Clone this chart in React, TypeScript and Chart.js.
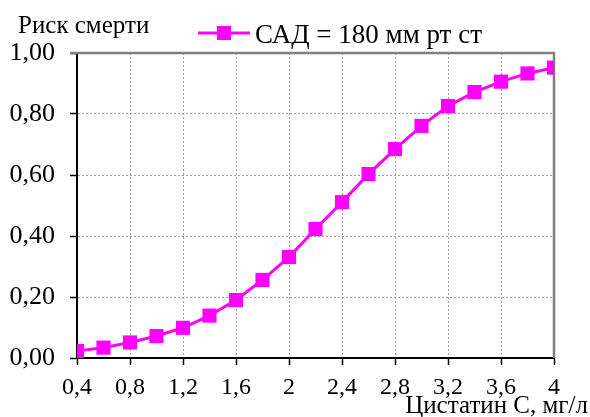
import React, { useEffect, useRef } from "react";
import { Chart, registerables } from "chart.js";

Chart.register(...registerables);

const xValues = [0.4, 0.6, 0.8, 1.0, 1.2, 1.4, 1.6, 1.8, 2.0, 2.2, 2.4, 2.6, 2.8, 3.0, 3.2, 3.4, 3.6, 3.8, 4.0];
const riskValues = [0.023, 0.034, 0.051, 0.072, 0.099, 0.139, 0.19, 0.256, 0.331, 0.423, 0.511, 0.603, 0.685, 0.761, 0.826, 0.872, 0.906, 0.933, 0.952];
const xTicks = [0.4, 0.8, 1.2, 1.6, 2.0, 2.4, 2.8, 3.2, 3.6, 4.0];
const yTicks = [0, 0.2, 0.4, 0.6, 0.8, 1.0];
const seriesLabel = "САД = 180 мм рт ст";
const yTitle = "Риск смерти";
const xTitle = "Цистатин С, мг/л";

const FONT = "'Liberation Serif', 'Times New Roman', serif";
const MAGENTA = "#FF00FF";

export default function App() {
  const ref = useRef<HTMLCanvasElement | null>(null);

  useEffect(() => {
    if (!ref.current) return;
    const framePlugin = {
      id: "frame",
      beforeDatasetsDraw(chart: any) {
        const { ctx, chartArea } = chart;
        ctx.save();
        ctx.strokeStyle = "#808080";
        ctx.lineWidth = 2.5;
        ctx.beginPath();
        ctx.moveTo(chartArea.left - 7, chartArea.top);
        ctx.lineTo(chartArea.right, chartArea.top);
        ctx.lineTo(chartArea.right, chartArea.bottom);
        ctx.stroke();
        ctx.restore();
      },
      afterDraw(chart: any) {
        const { ctx } = chart;
        ctx.save();
        ctx.fillStyle = "#000";
        ctx.textBaseline = "alphabetic";
        ctx.textAlign = "left";
        ctx.font = `25px ${FONT}`;
        ctx.fillText(yTitle, 18, 33);
        ctx.textAlign = "right";
        ctx.font = `25px ${FONT}`;
        ctx.fillText(xTitle, 588, 413);
        // legend
        const ly = 33;
        ctx.strokeStyle = MAGENTA;
        ctx.lineWidth = 3;
        ctx.beginPath();
        ctx.moveTo(198, ly);
        ctx.lineTo(250, ly);
        ctx.stroke();
        ctx.fillStyle = MAGENTA;
        ctx.fillRect(224 - 7, ly - 7, 14, 14);
        ctx.fillStyle = "#000";
        ctx.textAlign = "left";
        ctx.textBaseline = "alphabetic";
        ctx.font = `27px ${FONT}`;
        ctx.fillText(seriesLabel, 255, 43);
        ctx.restore();
      },
    };

    const chart = new Chart(ref.current, {
      type: "line",
      data: {
        datasets: [
          {
            label: seriesLabel,
            data: xValues.map((x, i) => ({ x, y: riskValues[i] })),
            borderColor: MAGENTA,
            backgroundColor: MAGENTA,
            borderWidth: 3,
            pointStyle: "rect",
            pointRadius: 10,
            pointBorderWidth: 0,
            pointBackgroundColor: MAGENTA,
            pointBorderColor: MAGENTA,
            tension: 0,
          },
        ],
      },
      options: {
        animation: false,
        responsive: false,
        layout: { padding: { top: 53, right: 36, left: 0, bottom: 0 } },
        plugins: { legend: { display: false }, tooltip: { enabled: false } },
        scales: {
          x: {
            type: "linear",
            min: 0.4,
            max: 4,
            afterBuildTicks: (scale: any) => {
              scale.ticks = xTicks.map((v) => ({ value: v }));
            },
            afterFit: (scale: any) => {
              scale.height = 59;
            },
            ticks: {
              color: "#000",
              font: { family: FONT, size: 24 },
              padding: 8,
              maxRotation: 0,
              autoSkip: false,
              callback: (v: any) => String(Math.round(Number(v) * 10) / 10).replace(".", ","),
            },
            grid: {
              color: "#a0a0a0",
              lineWidth: 1,
              tickLength: 7,
              tickColor: "#000",
              tickWidth: 1.5,
              tickBorderDash: [],
            },
            border: { display: true, color: "#000", width: 2, dash: [2, 2] },
          },
          y: {
            type: "linear",
            min: 0,
            max: 1,
            afterBuildTicks: (scale: any) => {
              scale.ticks = yTicks.map((v) => ({ value: v }));
            },
            afterFit: (scale: any) => {
              scale.width = 77;
            },
            ticks: {
              color: "#000",
              font: { family: FONT, size: 26 },
              padding: 15,
              callback: (v: any) => Number(v).toFixed(2).replace(".", ","),
            },
            grid: {
              color: "#a0a0a0",
              lineWidth: 1,
              tickLength: 7,
              tickColor: "#000",
              tickWidth: 1.5,
              tickBorderDash: [],
            },
            border: { display: true, color: "#000", width: 2, dash: [2, 2] },
          },
        },
      },
      plugins: [framePlugin],
    });
    return () => chart.destroy();
  }, []);

  return (
    <div style={{ position: "fixed", left: 0, top: 0, width: 590, height: 417, background: "#fff" }}>
      <canvas ref={ref} width={590} height={417} />
    </div>
  );
}
